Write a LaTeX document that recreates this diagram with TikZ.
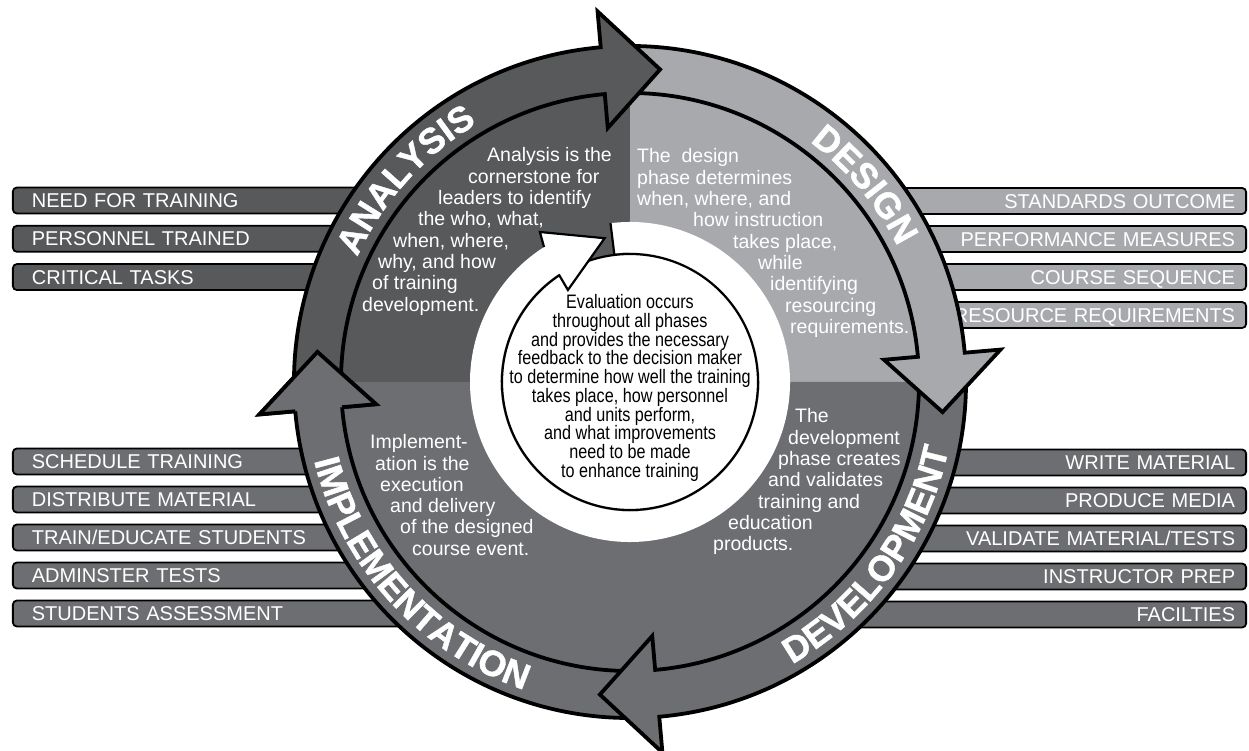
\documentclass[tikz,border=0pt]{standalone}
\usepackage{fontspec}
\setmainfont{Liberation Sans}
\newfontfamily\narrowfont[FakeStretch=0.83]{Liberation Sans}
\newfontfamily\phasefont[FakeBold=1.2]{Liberation Sans Bold}
\usetikzlibrary{decorations.text}

\definecolor{anagray}{HTML}{58595B}
\definecolor{desgray}{HTML}{A7A9AC}
\definecolor{devgray}{HTML}{6D6E71}
\definecolor{impgray}{HTML}{6D6E71}

% ring arrow: colour, start angle, base angle of the head
\newcommand{\phasearrow}[3]{%
  \filldraw[ring, fill=#1] (#2:336) arc[start angle=#2, end angle=#3, radius=336pt]
    -- (#3:372) -- ({#3-10.5}:314) -- (#3:255) -- (#3:289)
    arc[start angle=#3, end angle=#2, radius=289pt] -- cycle;}
% head only, drawn again on top
\newcommand{\phasehead}[2]{%
  \fill[#1] (#2:336) -- (#2:372) -- ({#2-10.5}:314) -- (#2:255) -- (#2:289) -- cycle;
  \draw[ring] (#2:336) -- (#2:372) -- ({#2-10.5}:314) -- (#2:255) -- (#2:289);}
% text on the ring: text, start, end, radius
\newcommand{\phaselabel}[4]{%
  \path[decorate, decoration={text along path, text align=center,
      text={|\phasefont\fontsize{36}{36}\selectfont\color{white}|#1}}]
    (#2:#4) arc[start angle=#2, end angle=#3, radius=#4pt];}

\begin{document}
\begin{tikzpicture}[
        x=1pt, y=1pt,
        ring/.style={draw=black, line width=3.8pt, line join=miter, miter limit=10},
        evalline/.style={draw=black, line width=2.2pt, line join=miter},
        bar/.style={draw=black, line width=1.8pt, rounded corners=4pt, text=white,
            text width=560pt, inner ysep=0pt, minimum height=26pt,
            text height=14.4pt, text depth=0pt, font=\fontsize{20}{22}\selectfont},
        leftbar/.style={bar, anchor=west, align=left, inner xsep=19pt},
        rightbar/.style={bar, anchor=east, align=right, inner xsep=11pt},
        quadtext/.style={anchor=base west, inner sep=0pt, text=white,
            font=\fontsize{19.5}{21}\selectfont},
        evaltext/.style={align=center, inner sep=0pt,
            font=\narrowfont\fontsize{19.5}{18.7}\selectfont}
    ]
        \path[use as bounding box, fill=white] (-630,-369) rectangle (619,382);

        % Side bars
        \foreach \t [count=\i] in {NEED FOR TRAINING, PERSONNEL TRAINED, CRITICAL TASKS}
            \node[leftbar, fill=anagray] (anabar\i) at (-618, {181.5-38.3*(\i-1)}) {\t};
        \foreach \t [count=\i] in {STANDARDS OUTCOME, PERFORMANCE MEASURES, COURSE SEQUENCE, RESOURCE REQUIREMENTS}
            \node[rightbar, fill=desgray] (desbar\i) at (617, {181-38*(\i-1)}) {\t};
        \foreach \t [count=\i] in {SCHEDULE TRAINING, DISTRIBUTE MATERIAL, TRAIN/EDUCATE STUDENTS, ADMINSTER TESTS, STUDENTS ASSESSMENT}
            \node[leftbar, fill=impgray] (impbar\i) at (-618, {-79.5-38*(\i-1)}) {\t};
        \foreach \t [count=\i] in {WRITE MATERIAL, PRODUCE MEDIA, VALIDATE MATERIAL/TESTS, INSTRUCTOR PREP, FACILTIES}
            \node[rightbar, fill=devgray] (devbar\i) at (617, {-80.5-38*(\i-1)}) {\t};

        % Quadrants
        \fill[anagray] (0,0) -- (180:300) arc[start angle=180, end angle=90, radius=300pt] -- cycle;
        \fill[desgray] (0,0) -- (90:300) arc[start angle=90, end angle=0, radius=300pt] -- cycle;
        \fill[devgray] (0,0) -- (0:300) arc[start angle=0, end angle=-180, radius=300pt] -- cycle;

        % Ring arrows
        \phasearrow{impgray}{-87}{-175}
        \phasearrow{devgray}{3}{-85}
        \phasearrow{desgray}{93}{5}
        \phasearrow{anagray}{183}{95}
        \phasehead{impgray}{-175}

        % Phase texts
        \foreach \x/\t [count=\i] in {-143/Analysis is the, -162/cornerstone for, -192/leaders to identify,
                -212/{the who, what,}, -237/{when, where,}, -252/{why, and how}, -258/of training, -268/development.}
            \node[quadtext] (ana\i) at (\x, {220-21.3*(\i-1)}) {\t};
        \foreach \x/\t [count=\i] in {7/The\ \ design, 7/phase determines, 7/{when, where, and}, 63/how instruction,
                103/{takes place,}, 128/while, 140/identifying, 155/resourcing, 160/requirements.}
            \node[quadtext] (des\i) at (\x, {219-21.3*(\i-1)}) {\t};
        \foreach \x/\t [count=\i] in {165/The, 158/development, 148/phase creates, 138/and validates,
                128/training and, 98/education, 83/products.}
            \node[quadtext] (dev\i) at (\x, {-41-21.3*(\i-1)}) {\t};
        \foreach \x/\t [count=\i] in {-260/Implement-, -255/ation is the, -250/execution, -240/and delivery,
                -230/of the designed, -218/course event.}
            \node[quadtext] (imp\i) at (\x, {-67-21.2*(\i-1)}) {\t};

        % Evaluation
        \draw[evalline, fill=white] (0,0) circle[radius=128pt];
        \fill[white] (97:160) arc[start angle=97, end angle=-237.5, radius=160pt]
            -- (-239:175) -- (-260:146) -- (-236:111) -- (-236.5:129.5)
            arc[start angle=-236.5, end angle=97, radius=129.5pt] -- cycle;
        \draw[evalline] (97:129) -- (97:160);
        \draw[evalline] (-237.5:160) -- (-239:175) -- (-260:146) -- (-236:111) -- (-236.5:129);
        \node[evaltext] (eval) at (0,-6) {Evaluation occurs\\throughout all phases\\
            and provides the necessary\\feedback to the decision maker\\
            to determine how well the training\\takes place, how personnel\\
            and units perform,\\and what improvements\\need to be made\\to enhance training};

        % Ring labels
        \phaselabel{ANALYSIS}{168}{108}{300}
        \phaselabel{DESIGN}{70}{10}{300}
        \phaselabel{DEVELOPMENT}{-76}{4}{325.5}
        \phaselabel{IMPLEMENTATION}{182}{263}{325.5}
    \end{tikzpicture}
\end{document}
